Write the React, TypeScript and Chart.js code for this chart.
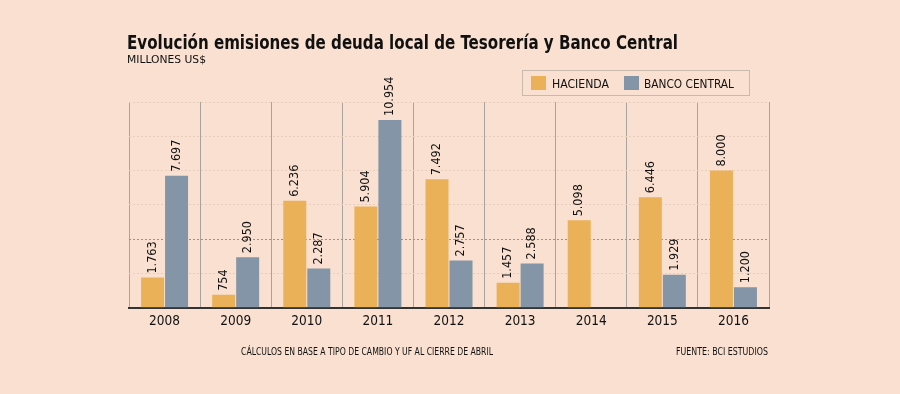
import React, { useEffect, useRef } from "react";
import { Chart, registerables } from "chart.js";

Chart.register(...registerables);

const years = ["2008", "2009", "2010", "2011", "2012", "2013", "2014", "2015", "2016"];
const hacienda = [1763, 754, 6236, 5904, 7492, 1457, 5098, 6446, 8000];
const bancoCentral = [7697, 2950, 2287, 10954, 2757, 2588, null, 1929, 1200];
const seriesNames = ["HACIENDA", "BANCO CENTRAL"];
const yMax = 12000;
const yStep = 2000;

const titleText = "Evolución emisiones de deuda local de Tesorería y Banco Central";
const subtitleText = "MILLONES US$";
const noteText = "CÁLCULOS EN BASE A TIPO DE CAMBIO Y UF AL CIERRE DE ABRIL";
const sourceText = "FUENTE: BCI ESTUDIOS";

const BG = "#F9E0D0";
const ORANGE = "#EBB158";
const BLUE = "#8395A7";
const FAMILY = "'DejaVu Sans Condensed', 'DejaVu Sans', sans-serif";

function fmt(v: number): string {
  return String(v).replace(/\B(?=(\d{3})+(?!\d))/g, ".");
}

function fitText(ctx: CanvasRenderingContext2D, text: string, x: number, y: number, font: string, width: number, color: string) {
  ctx.save();
  ctx.font = font;
  ctx.fillStyle = color;
  ctx.textAlign = "left";
  ctx.textBaseline = "alphabetic";
  const w = ctx.measureText(text).width;
  ctx.translate(x, y);
  ctx.scale(width / w, 1);
  ctx.fillText(text, 0, 0);
  ctx.restore();
}

const decorPlugin = {
  id: "decor",
  beforeDraw(chart: any) {
    const ctx = chart.ctx as CanvasRenderingContext2D;
    ctx.save();
    ctx.fillStyle = BG;
    ctx.fillRect(0, 0, chart.width, chart.height);
    ctx.restore();
  },
  afterDraw(chart: any) {
    const ctx = chart.ctx as CanvasRenderingContext2D;
    fitText(ctx, titleText, 127, 49, `bold 20px ${FAMILY}`, 551, "#111");
    fitText(ctx, subtitleText, 127, 63, `11px ${FAMILY}`, 79, "#111");
    fitText(ctx, noteText, 241, 355, `10px ${FAMILY}`, 252, "#111");
    fitText(ctx, sourceText, 676, 355, `10px ${FAMILY}`, 92, "#111");

    // legend box
    ctx.save();
    ctx.strokeStyle = "#C9B8AC";
    ctx.lineWidth = 1;
    ctx.strokeRect(522.5, 70.5, 227, 25);
    const ds = chart.data.datasets;
    const items = [
      { sq: 531, tx: 552, w: 57 },
      { sq: 624, tx: 644, w: 90 },
    ];
    items.forEach((it, i) => {
      ctx.fillStyle = ds[i].backgroundColor;
      ctx.fillRect(it.sq, 76, 15, 14);
      fitText(ctx, ds[i].label, it.tx, 88, `12px ${FAMILY}`, it.w, "#111");
    });
    ctx.restore();
  },
  afterDatasetsDraw(chart: any) {
    const ctx = chart.ctx as CanvasRenderingContext2D;
    ctx.save();
    ctx.font = `12.5px ${FAMILY}`;
    ctx.fillStyle = "#111";
    ctx.textAlign = "left";
    ctx.textBaseline = "middle";
    chart.data.datasets.forEach((d: any, di: number) => {
      const meta = chart.getDatasetMeta(di);
      meta.data.forEach((el: any, i: number) => {
        const v = d.data[i];
        if (v === null || v === undefined) return;
        ctx.save();
        ctx.translate(el.x, el.y - 4);
        ctx.rotate(-Math.PI / 2);
        ctx.fillText(fmt(v), 0, 0);
        ctx.restore();
      });
    });
    ctx.restore();
  },
};

export default function App() {
  const ref = useRef<HTMLCanvasElement>(null);
  useEffect(() => {
    document.body.style.margin = "0";
    document.body.style.background = BG;
    const chart = new Chart(ref.current as HTMLCanvasElement, {
      type: "bar",
      data: {
        labels: years,
        datasets: [
          { label: seriesNames[0], data: hacienda, backgroundColor: ORANGE, categoryPercentage: 0.675, barPercentage: 0.958 },
          { label: seriesNames[1], data: bancoCentral as any, backgroundColor: BLUE, categoryPercentage: 0.675, barPercentage: 0.958 },
        ],
      },
      options: {
        responsive: false,
        animation: false,
        layout: { padding: { left: 129, right: 131, top: 102, bottom: 58 } },
        plugins: { legend: { display: false }, title: { display: false }, tooltip: { enabled: false } },
        scales: {
          x: {
            grid: { color: "#A8A39E", lineWidth: 1, drawTicks: false, offset: true },
            border: { display: true, color: "#333", width: 2 },
            ticks: { color: "#111", font: { family: FAMILY, size: 13.5 }, padding: 6 },
          },
          y: {
            min: 0,
            max: yMax,
            ticks: { display: false, stepSize: yStep },
            grid: {
              drawTicks: false,
              color: (c: any) => (c.tick && c.tick.value === 4000 ? "#9C918A" : c.tick && c.tick.value === 0 ? "rgba(0,0,0,0)" : "#E6CDBD"),
              lineWidth: 1,
            },
            border: { display: false, dash: [2, 2] },
          },
        },
      },
      plugins: [decorPlugin],
    });
    return () => chart.destroy();
  }, []);
  return (
    <div style={{ width: 900, height: 394, background: BG }}>
      <canvas ref={ref} width={900} height={394} style={{ display: "block" }} />
    </div>
  );
}
